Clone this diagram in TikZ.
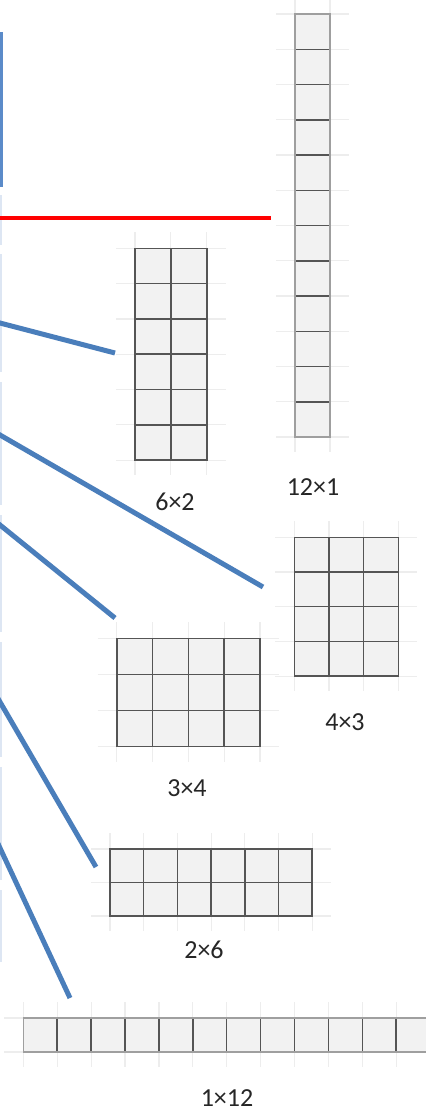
\documentclass[tikz,border=0pt]{standalone}
\usepackage{fontspec}
\setmainfont{Carlito}
\definecolor{conblue}{HTML}{4A7EBB}
\definecolor{edgeblue}{HTML}{5B8BC9}
\definecolor{cellbg}{HTML}{F2F2F2}
\definecolor{faintgray}{HTML}{EDEDED}
\definecolor{gridline}{HTML}{555555}
\definecolor{txtcol}{HTML}{262626}
\definecolor{paleblue}{HTML}{DDE6F3}
\tikzset{
  faint/.style={draw=faintgray, line width=1.2pt},
  gline/.style={draw=gridline, line width=1.5pt},
  connector/.style={draw=conblue, line width=5pt},
  redline/.style={draw=red, line width=4pt},
  dimlabel/.style={text=txtcol, font=\fontsize{26}{30}\selectfont, inner sep=0pt},
  leftfaint/.style={draw=paleblue, line width=2.5pt},
}
% #1 name, #2 x, #3 top y, #4 cols, #5 rows, #6 cell w, #7 cell h, #8 border colour
\newcommand{\mygrid}[8]{%
  \foreach \i in {0,...,#4} \draw[faint] ({#2+\i*#6},{#3-16}) -- ({#2+\i*#6},{#3+#5*#7+15});
  \foreach \j in {0,...,#5} \draw[faint] ({#2-19},{#3+\j*#7}) -- ({#2+#4*#6+19},{#3+\j*#7});
  \fill[cellbg] (#2,#3) rectangle ({#2+#4*#6},{#3+#5*#7});
  \foreach \i in {0,...,#4} \draw[gline] ({#2+\i*#6},{#3}) -- ({#2+\i*#6},{#3+#5*#7});
  \foreach \j in {0,...,#5} \draw[gline] ({#2},{#3+\j*#7}) -- ({#2+#4*#6},{#3+\j*#7});
  \draw[draw=#8, line width=1.6pt] (#2,#3) rectangle ({#2+#4*#6},{#3+#5*#7});
  \coordinate (#1) at ({#2+#4*#6/2},{#3+#5*#7/2});
}
\begin{document}
\begin{tikzpicture}[x=1pt,y=-1pt]
\useasboundingbox (0,0) rectangle (426,1112);
\clip (0,0) rectangle (426,1112);
\fill[white] (0,0) rectangle (426,1112);

% left edge remnants
\draw[draw=edgeblue, line width=3pt] (1,32) -- (1,187);
\foreach \a/\b in {195/245, 254/372, 382/505, 515/632, 642/757, 767/880, 890/962}
  \draw[leftfaint] (1,\a) -- (1,\b);

% grids
\mygrid{g121}{295}{14}{1}{12}{35}{35.25}{gray!75}
\mygrid{g62}{135}{248.3}{2}{6}{35.85}{35.3}{gridline}
\mygrid{g43}{294.3}{537.3}{3}{4}{34.7}{34.7}{gridline}
\mygrid{g34}{116.7}{638.3}{4}{3}{35.8}{36.1}{gridline}
\mygrid{g26}{110}{849}{6}{2}{33.7}{33.5}{gridline}
\mygrid{g112}{23.3}{1018}{12}{1}{33.9}{34}{gray!75}

% labels
\node[dimlabel] (t121) at (313,487) {12×1};
\node[dimlabel] (t62)  at (175,502) {6×2};
\node[dimlabel] (t43)  at (345,722) {4×3};
\node[dimlabel] (t34)  at (187,788) {3×4};
\node[dimlabel] (t26)  at (204,950) {2×6};
\node[dimlabel] (t112) at (227,1098) {1×12};

% connector endpoints
\coordinate (r0) at (-5,218);
\coordinate (r1) at (271,218);
\coordinate (a0) at (-10,320.4);
\coordinate (a1) at (115,353);
\coordinate (b0) at (-10,429.2);
\coordinate (b1) at (263,587);
\coordinate (c0) at (-10,516.9);
\coordinate (c1) at (115,618);
\coordinate (d0) at (-10,684.8);
\coordinate (d1) at (96,867);
\coordinate (e0) at (-10,826.6);
\coordinate (e1) at (70,998);

\draw[redline] (r0) -- (r1);
\draw[connector] (a0) -- (a1);
\draw[connector] (b0) -- (b1);
\draw[connector] (c0) -- (c1);
\draw[connector] (d0) -- (d1);
\draw[connector] (e0) -- (e1);
\end{tikzpicture}
\end{document}
